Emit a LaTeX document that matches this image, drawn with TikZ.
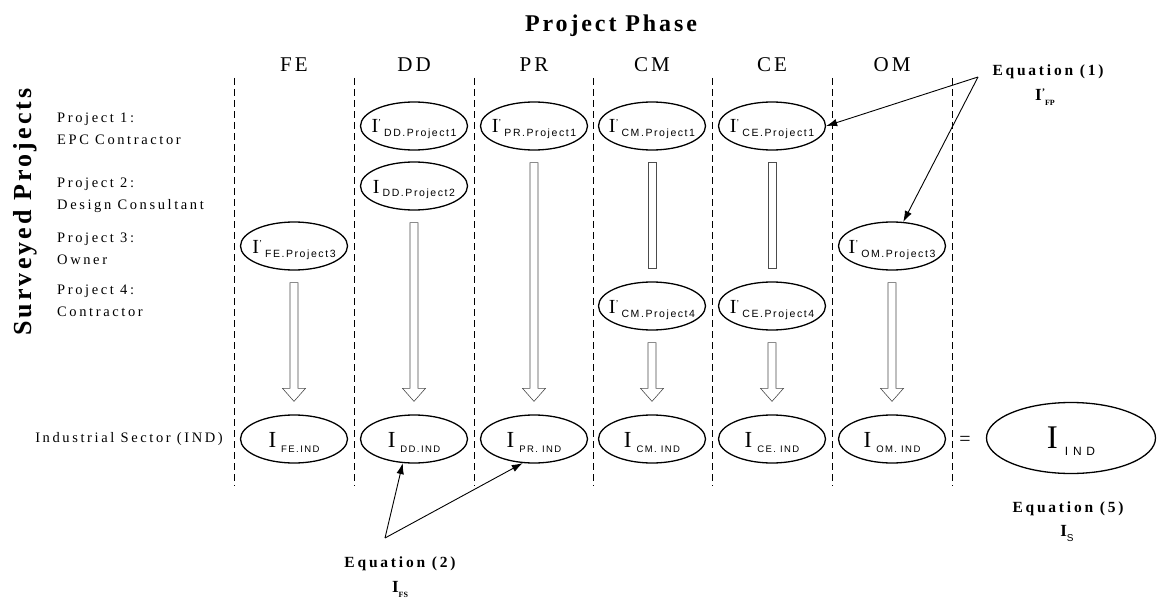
\documentclass[tikz,border=0pt]{standalone}
\usepackage{fontspec}
\setmainfont{Liberation Serif}
\newfontfamily\lblf[LetterSpace=18]{Liberation Serif}
\newfontfamily\hdrf[LetterSpace=15]{Liberation Serif}
\newfontfamily\ttlf[LetterSpace=12]{Liberation Serif}
\newfontfamily\eqf[LetterSpace=18]{Liberation Serif}
\newfontfamily\subf[LetterSpace=15]{Liberation Sans}
\usetikzlibrary{shapes.geometric,calc,arrows.meta}
\newcommand\Ip[2]{\makebox[0pt]{\raisebox{-7pt}[0pt][0pt]{\fontsize{20}{20}\selectfont I#1\hspace{3pt}\raisebox{-4pt}{\subf\fontsize{10.5}{10.5}\selectfont #2}}}}
\newcommand\pr{\raisebox{7pt}{\fontsize{9}{9}\selectfont'}}
\newcommand\Ii[1]{\makebox[0pt]{\raisebox{-8pt}[0pt][0pt]{\fontsize{23}{23}\selectfont I\hspace{5pt}\raisebox{-5pt}{\subf\fontsize{9.5}{9.5}\selectfont #1}}}}
\newcommand\blockarrow[2]{%
 \draw[blk] let \p1=($(#1.south)+(0pt,-12pt)$), \p2=($(#2.north)+(0pt,13pt)$) in
 (\x1-4pt,\y1) -- (\x1-4pt,\y2+13pt) -- (\x1-11.5pt,\y2+13pt) -- (\x1,\y2) -- (\x1+11.5pt,\y2+13pt) -- (\x1+4pt,\y2+13pt) -- (\x1+4pt,\y1) -- cycle;}
\newcommand\blockbar[2]{%
 \draw[blk] let \p1=($(#1.south)+(0pt,-12pt)$), \p2=($(#2.north)+(0pt,13pt)$) in
 (\x1-4pt,\y1) rectangle (\x1+4pt,\y2);}
\tikzset{
 ell/.style={draw, line width=1.3pt, ellipse, minimum width=107pt, minimum height=48pt, inner sep=0pt},
 bigell/.style={ell, minimum width=169pt, minimum height=71pt},
 divider/.style={dash pattern=on 7pt off 4pt, line width=0.9pt},
 blk/.style={draw=black!70, line width=0.6pt, fill=white},
 eqarrow/.style={-{Latex[length=11pt,width=7.5pt]}, line width=0.9pt},
 hdr/.style={anchor=base, font=\hdrf\fontsize{21}{21}\selectfont},
 lbl/.style={anchor=west, align=left, font=\lblf\fontsize{14.5}{22}\selectfont, inner sep=0pt},
 eqlbl/.style={anchor=base, font=\eqf\bfseries\fontsize{15.5}{15.5}\selectfont, inner sep=0pt},
}
\begin{document}
\begin{tikzpicture}[x=1pt,y=-1pt]
\useasboundingbox[fill=white] (0,0) rectangle (1159,604);
% titles
\node[anchor=base, font=\ttlf\bfseries\fontsize{24}{24}\selectfont] (title) at (611,32) {Project Phase};
\node[rotate=90, font=\ttlf\bfseries\fontsize{26}{26}\selectfont, inner sep=0pt] (surv) at (25,212) {Surveyed Projects};
% headers
\node[hdr] (hFE) at (294,72) {FE};
\node[hdr] (hDD) at (414,72) {DD};
\node[hdr] (hPR) at (534,72) {PR};
\node[hdr] (hCM) at (652,72) {CM};
\node[hdr] (hCE) at (772,72) {CE};
\node[hdr] (hOM) at (892,72) {OM};
% dividers
\foreach \x in {234,354,474,593,712,832,952} \draw[divider] (\x,78) -- (\x,486);
% row labels
\node[lbl] (l1) at (57,129) {Project 1:\\EPC Contractor};
\node[lbl] (l2) at (57,195) {Project 2:\\Design Consultant};
\node[lbl] (l3) at (57,249) {Project 3:\\Owner};
\node[lbl] (l4) at (57,301) {Project 4:\\Contractor};
\node[anchor=east, font=\lblf\fontsize{14.5}{22}\selectfont, inner sep=0pt] (lind) at (223,439) {Industrial Sector (IND)};
% project ellipses
\node[ell] (DD1) at (414,126) {\Ip{\pr}{DD.Project1}};
\node[ell] (PR1) at (534,126) {\Ip{\pr}{PR.Project1}};
\node[ell] (CM1) at (652,126) {\Ip{\pr}{CM.Project1}};
\node[ell] (CE1) at (772,126) {\Ip{\pr}{CE.Project1}};
\node[ell] (DD2) at (414,186) {\Ip{}{DD.Project2}};
\node[ell] (FE3) at (294,246) {\Ip{\pr}{FE.Project3}};
\node[ell] (OM3) at (892,246) {\Ip{\pr}{OM.Project3}};
\node[ell] (CM4) at (652,306) {\Ip{\pr}{CM.Project4}};
\node[ell] (CE4) at (772,306) {\Ip{\pr}{CE.Project4}};
% industry ellipses
\node[ell] (FEi) at (294,439) {\Ii{FE.IND}};
\node[ell] (DDi) at (414,439) {\Ii{DD.IND}};
\node[ell] (PRi) at (534,439) {\Ii{PR. IND}};
\node[ell] (CMi) at (652,439) {\Ii{CM. IND}};
\node[ell] (CEi) at (772,439) {\Ii{CE. IND}};
\node[ell] (OMi) at (892,439) {\Ii{OM. IND}};
\node[font=\fontsize{20}{20}\selectfont, inner sep=0pt] (eq) at (965,441) {=};
\node[bigell] (IND) at (1071,438) {\makebox[0pt]{\raisebox{-10pt}[0pt][0pt]{\fontsize{33}{33}\selectfont I\hspace{7pt}\raisebox{-7pt}{\subf\addfontfeature{LetterSpace=40}\fontsize{12}{12}\selectfont IND}}}};
% block arrows
\blockarrow{FE3}{FEi}
\blockarrow{DD2}{DDi}
\blockarrow{PR1}{PRi}
\blockbar{CM1}{CM4}
\blockbar{CE1}{CE4}
\blockarrow{CM4}{CMi}
\blockarrow{CE4}{CEi}
\blockarrow{OM3}{OMi}
% equation labels
\node[eqlbl] (eq1) at (1048,76) {Equation (1)};
\node[anchor=base, inner sep=0pt] (ifp) at (1045,101) {\bfseries\fontsize{17}{17}\selectfont I\raisebox{5pt}{\fontsize{10}{10}\selectfont'}\raisebox{-5pt}{\fontsize{8}{8}\selectfont FP}};
\node[eqlbl] (eq2) at (400,567) {Equation (2)};
\node[anchor=base, inner sep=0pt] (ifs) at (400,592) {\bfseries\fontsize{17}{17}\selectfont I\raisebox{-5pt}{\fontsize{8}{8}\selectfont FS}};
\node[eqlbl] (eq5) at (1068,512) {Equation (5)};
\node[anchor=base, inner sep=0pt] (is) at (1067,536) {\bfseries\fontsize{17}{17}\selectfont I\raisebox{-5pt}{\mdseries\subf\fontsize{10}{10}\selectfont S}};
% equation arrows
\coordinate (v1) at (978,77);
\coordinate (v2) at (385,538);
\draw[eqarrow] (v1) -- (CE1.east);
\draw[eqarrow] (v1) -- (OM3.65);
\draw[eqarrow] (v2) -- (DDi.-115);
\draw[eqarrow] (v2) -- (PRi.-115);
\end{tikzpicture}
\end{document}
